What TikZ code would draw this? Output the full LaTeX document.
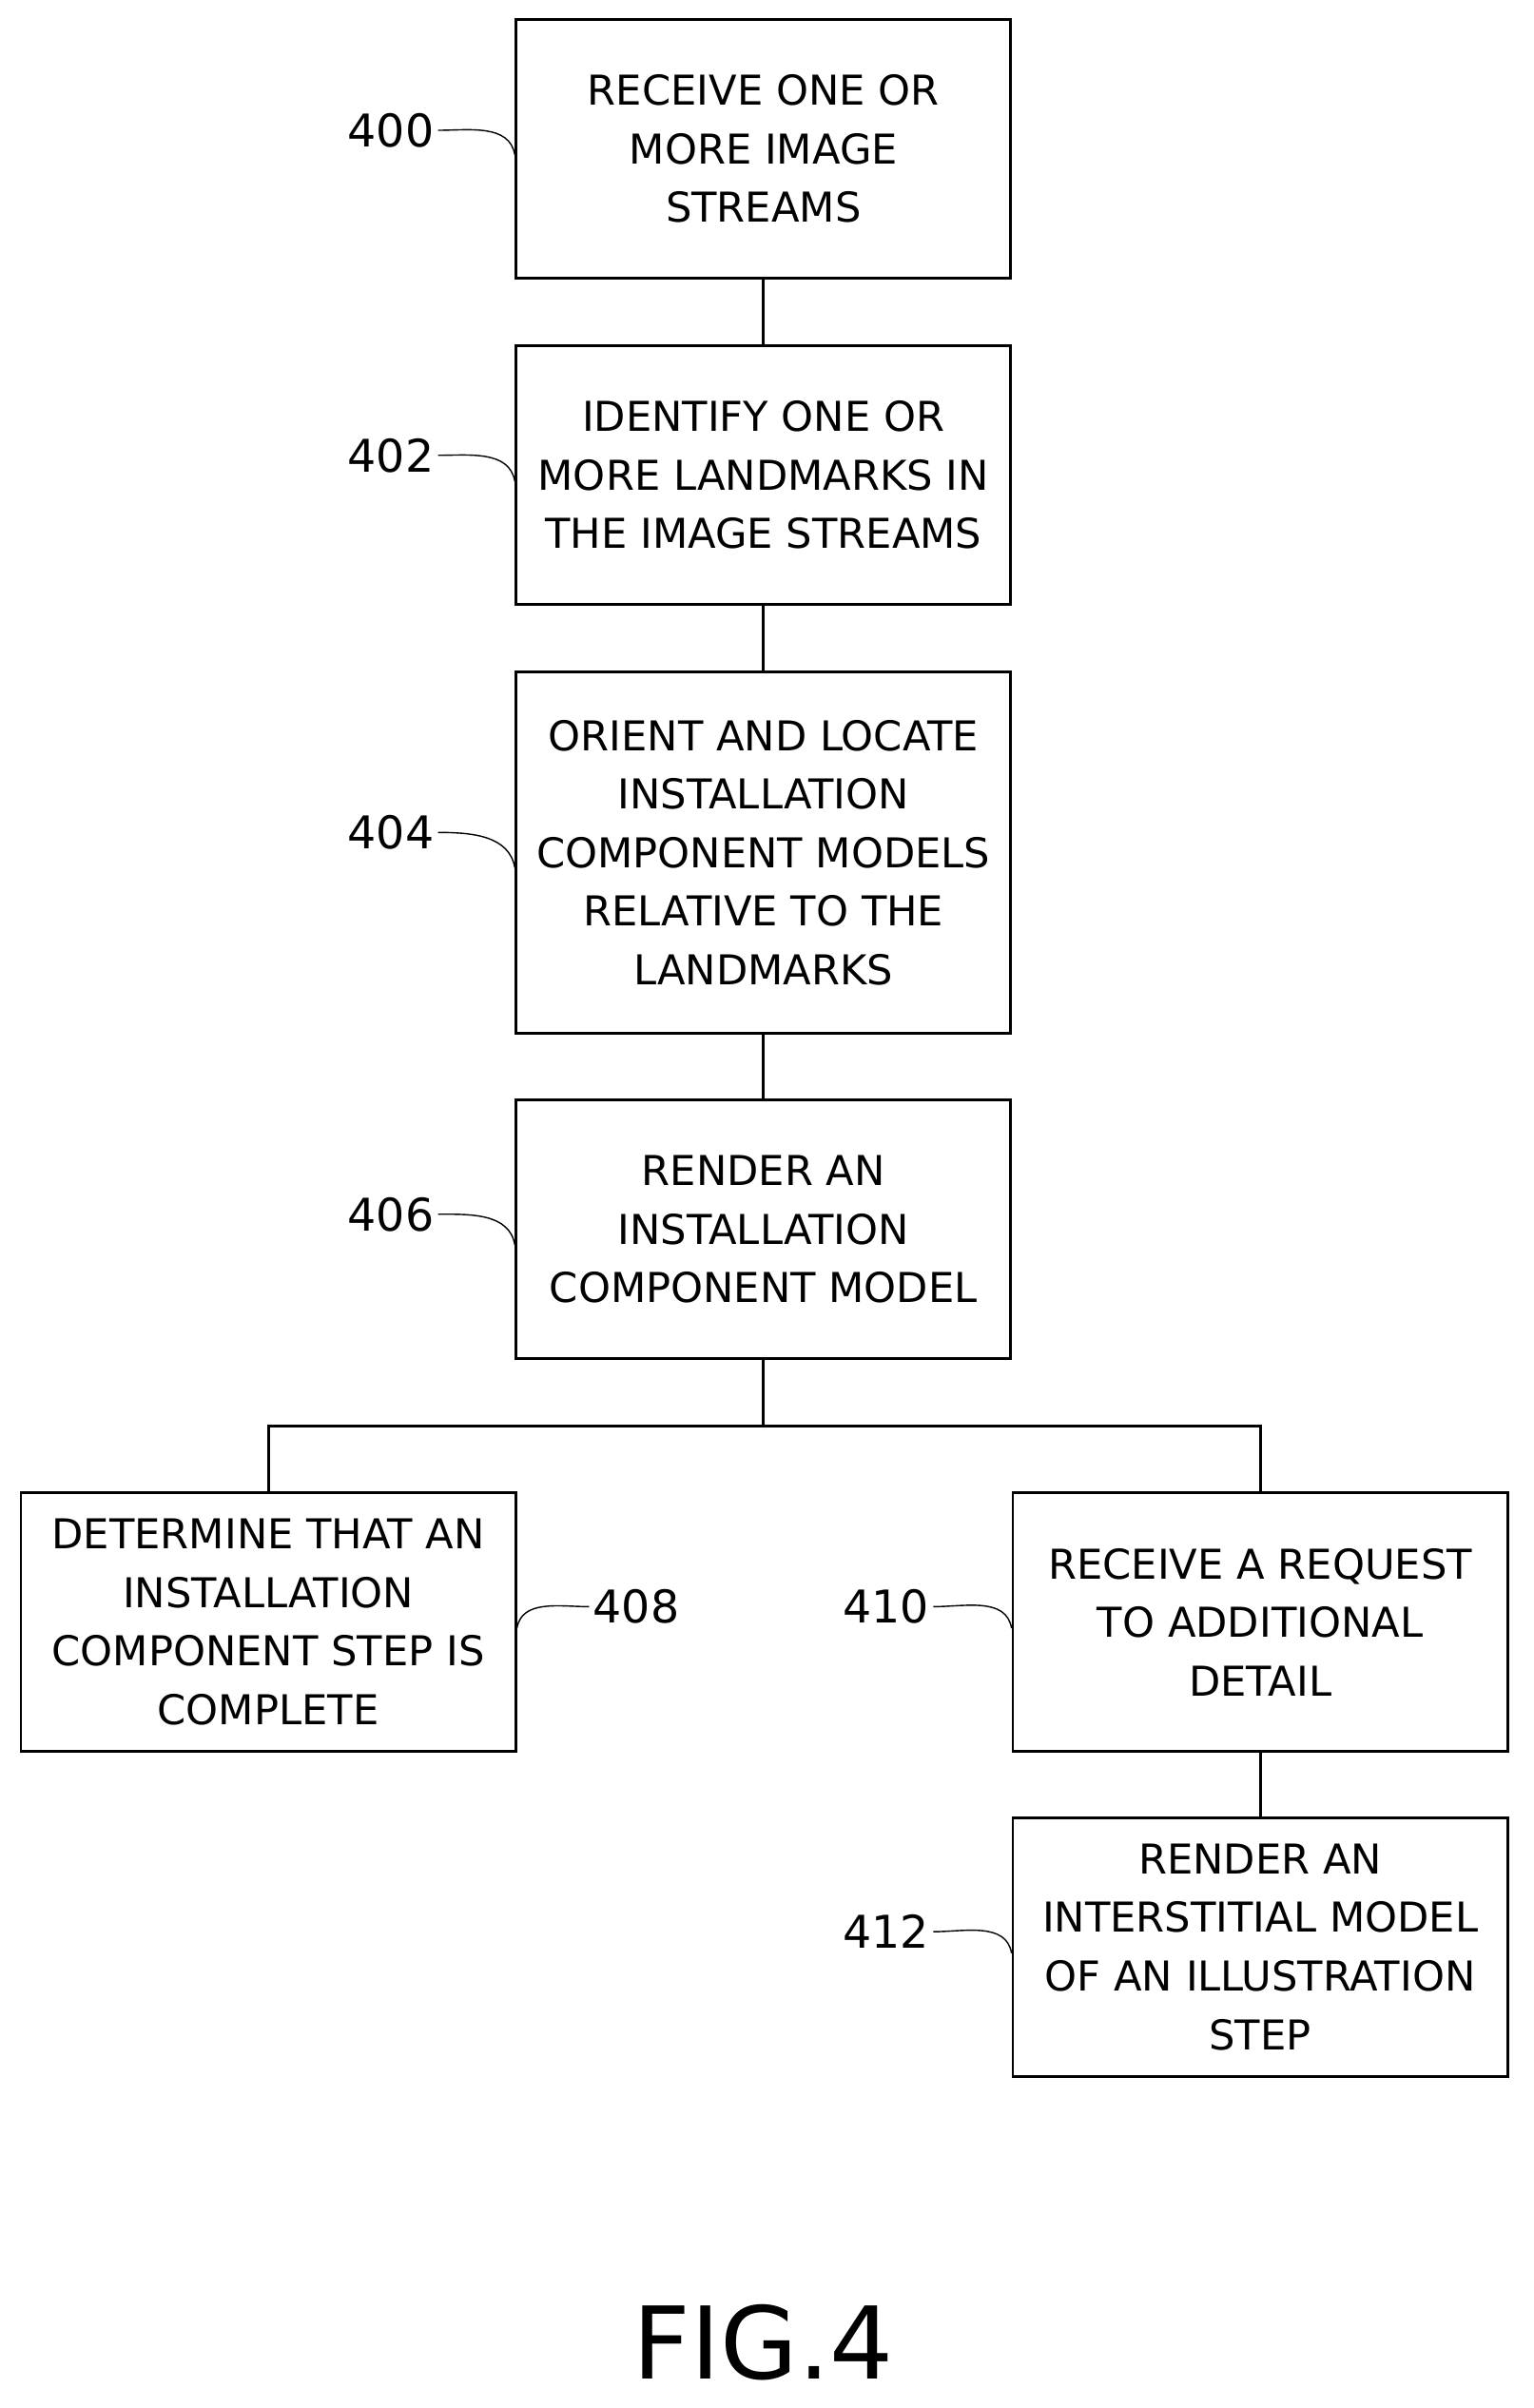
\documentclass[tikz,border=0pt]{standalone}
\usepackage{fontspec}
\setmainfont{DejaVu Sans}
\usetikzlibrary{positioning, calc}
\begin{document}
\begin{tikzpicture}[
  x=0.1612mm, y=-0.1612mm,
  stepnode/.style={draw, thick, rectangle, minimum width=52mm, inner sep=2pt, font=\fontsize{12.3}{17.5}\selectfont, align=center},
  refnum/.style={font=\fontsize{13.5}{16}\selectfont, inner sep=1pt},
  flow/.style={thick},
  lead/.style={thin}
]
\useasboundingbox (0,0) rectangle (1000,1570.7);

% nodes
\node[stepnode, minimum height=27.2mm] (Recv) at (498,97) {RECEIVE ONE OR\\MORE IMAGE\\STREAMS};
\node[stepnode, minimum height=27.2mm] (Ident) at (498,310) {IDENTIFY ONE OR\\MORE LANDMARKS IN\\THE IMAGE STREAMS};
\node[stepnode, minimum height=38mm] (Orient) at (498,556) {ORIENT AND LOCATE\\INSTALLATION\\COMPONENT MODELS\\RELATIVE TO THE\\LANDMARKS};
\node[stepnode, minimum height=27.2mm] (Render) at (498,802) {RENDER AN\\INSTALLATION\\COMPONENT MODEL};
\node[stepnode, minimum height=27.2mm] (Done) at (175,1058) {DETERMINE THAT AN\\INSTALLATION\\COMPONENT STEP IS\\COMPLETE};
\node[stepnode, minimum height=27.2mm] (Req) at (822,1058) {RECEIVE A REQUEST\\TO ADDITIONAL\\DETAIL};
\node[stepnode, minimum height=27.2mm] (Inter) at (822,1270) {RENDER AN\\INTERSTITIAL MODEL\\OF AN ILLUSTRATION\\STEP};

% flows
\draw[flow] (Recv) -- (Ident);
\draw[flow] (Ident) -- (Orient);
\draw[flow] (Orient) -- (Render);
\coordinate (Split) at ($(Render.south)+(0,43)$);
\draw[flow] (Render.south) -- (Split);
\draw[flow] (Done.north) |- (Split) -| (Req.north);
\draw[flow] (Req) -- (Inter);

% reference numerals
\node[refnum] (n400) at (255,85) {400};
\node[refnum] (n402) at (255,297) {402};
\node[refnum] (n404) at (255,543) {404};
\node[refnum] (n406) at (255,792) {406};
\node[refnum] (n408) at (415,1048) {408};
\node[refnum] (n410) at (578,1048) {410};
\node[refnum] (n412) at (578,1260) {412};
\draw[lead] (n400.east) to[out=0, in=100] ($(Recv.west)+(0,4)$);
\draw[lead] (n402.east) to[out=0, in=100] ($(Ident.west)+(0,4)$);
\draw[lead] (n404.east) to[out=0, in=100] ($(Orient.west)+(0,10)$);
\draw[lead] (n406.east) to[out=0, in=100] ($(Render.west)+(0,10)$);
\draw[lead] (n408.west) to[out=180, in=80] ($(Done.east)+(0,4)$);
\draw[lead] (n410.east) to[out=0, in=100] ($(Req.west)+(0,4)$);
\draw[lead] (n412.east) to[out=0, in=100] ($(Inter.west)+(0,4)$);

\node[font=\fontsize{30}{34}\selectfont] (Fig) at (498,1528) {FIG.4};
\end{tikzpicture}
\end{document}
